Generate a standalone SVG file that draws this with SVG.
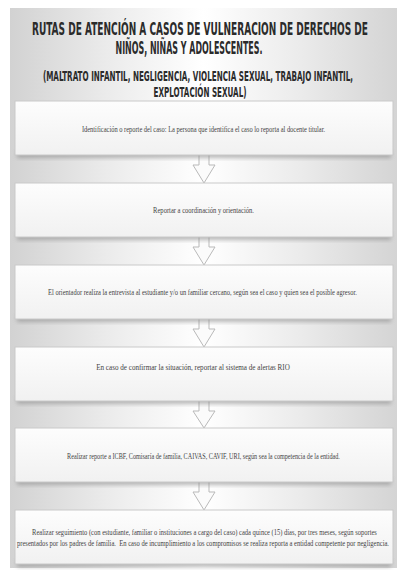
<svg xmlns="http://www.w3.org/2000/svg" width="403" height="574" viewBox="0 0 403 574">
<defs>
<linearGradient id="bg" x1="0" y1="0" x2="1" y2="0">
<stop offset="0" stop-color="#d2d2d2"/>
<stop offset="0.25" stop-color="#ebebeb"/>
<stop offset="0.5" stop-color="#ffffff"/>
<stop offset="0.75" stop-color="#ebebeb"/>
<stop offset="1" stop-color="#d4d4d4"/>
</linearGradient>
<linearGradient id="boxg" x1="0" y1="0" x2="0" y2="1">
<stop offset="0" stop-color="#fdfdfd"/>
<stop offset="1" stop-color="#f1f1f1"/>
</linearGradient>
<filter id="sh" x="-5%" y="-20%" width="110%" height="150%">
<feGaussianBlur stdDeviation="2"/>
</filter>
<style>
.title{font-family:"DejaVu Sans Condensed","DejaVu Sans",sans-serif;font-weight:bold;fill:#2b2b2b;text-anchor:middle}
.t1{font-size:17px}
.t2{font-size:13.5px}
.box{fill:url(#boxg);stroke:#c9c9c9;stroke-width:1}
.shadow{fill:#8a8a8a;opacity:0.6;filter:url(#sh)}
.lbl{font-family:"Liberation Serif",serif;font-size:7.5px;fill:#444;text-anchor:middle}
.arrow{fill:#fbfbfb;stroke:#b9b9b9;stroke-width:1;stroke-linejoin:miter}
</style>
</defs>
<rect x="10" y="8" width="387" height="560" fill="url(#bg)"/>
<g id="title">
<text class="title t1" transform="translate(200,34.5) scale(0.6,1)" x="0" y="0" textLength="560" lengthAdjust="spacingAndGlyphs">RUTAS DE ATENCIÓN A CASOS DE VULNERACION DE DERECHOS DE</text>
<text class="title t1" transform="translate(189,54) scale(0.6,1)" x="0" y="0" textLength="245" lengthAdjust="spacingAndGlyphs">NIÑOS, NIÑAS Y ADOLESCENTES.</text>
<text class="title t2" transform="translate(198,81) scale(0.6,1)" x="0" y="0" textLength="517" lengthAdjust="spacingAndGlyphs">(MALTRATO INFANTIL, NEGLIGENCIA, VIOLENCIA SEXUAL, TRABAJO INFANTIL,</text>
<text class="title t2" transform="translate(200,96.5) scale(0.6,1)" x="0" y="0" textLength="155" lengthAdjust="spacingAndGlyphs">EXPLOTACIÓN SEXUAL)</text>
</g>
<g id="connectors">
<path class="arrow" d="M199,155 L199,165 L193,165 L204,183 L215,165 L209,165 L209,155"/>
<path class="arrow" d="M199,237 L199,247 L193,247 L204,265 L215,247 L209,247 L209,237"/>
<path class="arrow" d="M199,319 L199,329 L193,329 L204,347 L215,329 L209,329 L209,319"/>
<path class="arrow" d="M199,401 L199,411 L193,411 L204,428 L215,411 L209,411 L209,401"/>
<path class="arrow" d="M199,482 L199,492 L193,492 L204,510 L215,492 L209,492 L209,482"/>
</g>
<g id="node1">
<rect class="shadow" x="17" y="150" width="374" height="8"/>
<rect class="box" x="15" y="101" width="378" height="54"/>
<text class="lbl" transform="translate(203.5,131.5) scale(0.8,1)" x="0" y="0" textLength="304" lengthAdjust="spacingAndGlyphs">Identificación o reporte del caso: La persona que identifica el caso lo reporta al docente titular.</text>
</g>
<g id="node2">
<rect class="shadow" x="17" y="232" width="374" height="8"/>
<rect class="box" x="15" y="183" width="378" height="54"/>
<text class="lbl" transform="translate(203.5,212.5) scale(0.8,1)" x="0" y="0" textLength="126" lengthAdjust="spacingAndGlyphs">Reportar a coordinación y orientación.</text>
</g>
<g id="node3">
<rect class="shadow" x="17" y="314" width="374" height="8"/>
<rect class="box" x="15" y="265" width="378" height="54"/>
<text class="lbl" transform="translate(202.5,294.5) scale(0.8,1)" x="0" y="0" textLength="386" lengthAdjust="spacingAndGlyphs">El orientador realiza la entrevista al estudiante y/o un familiar cercano, según sea el caso y quien sea el posible agresor.</text>
</g>
<g id="node4">
<rect class="shadow" x="17" y="396" width="374" height="8"/>
<rect class="box" x="15" y="347" width="378" height="54"/>
<text class="lbl" transform="translate(193,369.5) scale(0.8,1)" x="0" y="0" textLength="242" lengthAdjust="spacingAndGlyphs">En caso de confirmar la situación, reportar al sistema de alertas RIO</text>
</g>
<g id="node5">
<rect class="shadow" x="17" y="477" width="374" height="8"/>
<rect class="box" x="15" y="428" width="378" height="54"/>
<text class="lbl" transform="translate(203.5,458.5) scale(0.8,1)" x="0" y="0" textLength="341" lengthAdjust="spacingAndGlyphs">Realizar reporte a ICBF, Comisaría de familia, CAIVAS, CAVIF, URI, según sea la competencia de la entidad.</text>
</g>
<g id="node6">
<rect class="shadow" x="17" y="559" width="374" height="8"/>
<rect class="box" x="15" y="510" width="378" height="54"/>
<text class="lbl" transform="translate(204.5,534.5) scale(0.8,1)" x="0" y="0" textLength="431" lengthAdjust="spacingAndGlyphs">Realizar seguimiento (con estudiante, familiar o instituciones a cargo del caso) cada quince (15) días, por tres meses, según soportes</text>
<text class="lbl" transform="translate(203,545.5) scale(0.8,1)" x="0" y="0" textLength="465" lengthAdjust="spacingAndGlyphs" xml:space="preserve">presentados por los padres de familia.  En caso de incumplimiento a los compromisos se realiza reporta a entidad competente por negligencia.</text>
</g>
</svg>
